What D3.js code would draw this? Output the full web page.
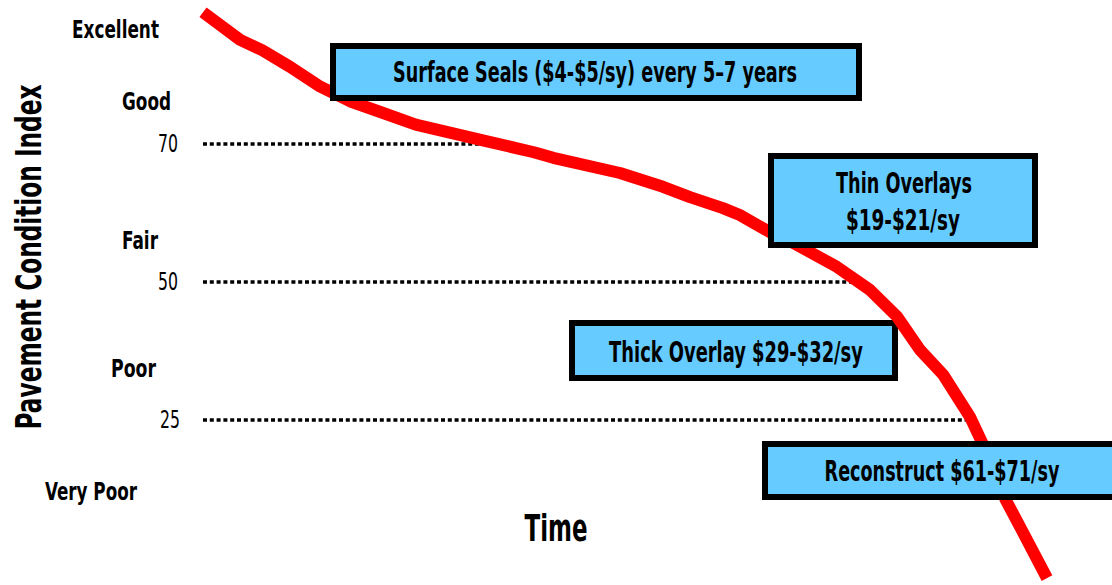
<!DOCTYPE html>
<html>
<head>
<meta charset="utf-8">
<script src="https://cdn.jsdelivr.net/npm/d3@7"></script>
<style>
  html, body { margin: 0; padding: 0; background: #fff; }
  svg { display: block; }
  text { font-family: "Liberation Sans Narrow", "DejaVu Sans Condensed", "Roboto Condensed", sans-serif; }
</style>
</head>
<body>
<svg id="chart" width="1112" height="585"></svg>
<script>
// ---------- data ----------
const timeValues = [0, 4.4, 7.0, 10.3, 13.9, 17.4, 21.1, 25.2, 32.9, 39.2, 41.5, 49.4, 54.5, 57.7, 61.6, 63.6, 67.2, 69.9, 75.1, 79.0, 82.2, 84.95, 87.7, 90.9, 93.0, 95.1, 97.3, 100];
const pciValues  = [89.1, 85.1, 83.6, 81.2, 78.3, 76.2, 74.6, 72.8, 70.6, 68.8, 68.0, 65.8, 63.8, 62.3, 60.7, 59.7, 57.2, 55.7, 52.2, 48.6, 43.8, 37.7, 33.2, 25.5, 19.6, 12.7, 7.3, 0.6];

const thresholdValues = [70, 50, 25];
const thresholdLabels = ["70", "50", "25"];

const conditionLabels = ["Excellent", "Good", "Fair", "Poor", "Very Poor"];
const conditionValues = [86.7, 76.2, 56.1, 34.4, 13.9];

const treatmentLabels = [
  ["Surface Seals ($4-$5/sy) every 5\u20137 years"],
  ["Thin Overlays", "$19-$21/sy"],
  ["Thick Overlay $29-$32/sy"],
  ["Reconstruct $61-$71/sy"]
];

const xTitle = "Time";
const yTitle = "Pavement Condition Index";

// ---------- layout ----------
const svg = d3.select("#chart");
const x = d3.scaleLinear().domain([0, 100]).range([203, 1047]);
const y = d3.scaleLinear().domain([0, 25, 50, 70, 100]).range([582, 420, 282, 144, -63]);

const condLayout = [
  {x: 72, w: 87}, {x: 122, w: 49}, {x: 122, w: 36}, {x: 111, w: 45}, {x: 45, w: 92}
];
const threshLayout = [{x: 158, w: 20}, {x: 158, w: 20}, {x: 160, w: 20}];

const boxLayout = [
  {b: [330, 43, 862, 101], lines: [{cx: 595, cy: 73, w: 404}]},
  {b: [768, 153, 1038, 248], lines: [{cx: 904, cy: 184, w: 136}, {cx: 903, cy: 220, w: 114}]},
  {b: [569, 320, 898, 381], lines: [{cx: 736, cy: 352, w: 254}]},
  {b: [762, 441, 1125, 500], lines: [{cx: 942, cy: 472, w: 235}]}
];
const BW = 6;

// ---------- helpers ----------
function crossingTime(v) {
  for (let i = 1; i < pciValues.length; i++) {
    const a = pciValues[i - 1], b = pciValues[i];
    if ((a - v) * (b - v) <= 0) {
      const f = (a - v) / (a - b);
      return timeValues[i - 1] + f * (timeValues[i] - timeValues[i - 1]);
    }
  }
  return 100;
}

// Draw text at (px,py), horizontally squeezed to width w. anchor: "start" | "middle"
function fitText(parent, str, px, py, w, opts) {
  const t = parent.append("text")
    .attr("text-anchor", opts.anchor || "start")
    .attr("dominant-baseline", "central")
    .attr("font-size", opts.size)
    .attr("font-weight", opts.weight || "normal")
    .attr("fill", "#000")
    .text(str);
  const natural = t.node().getComputedTextLength() || w;
  const sx = w / natural;
  const rot = opts.rotate ? ` rotate(${opts.rotate})` : "";
  t.attr("transform", `translate(${px},${py})${rot} scale(${sx},1)`);
  return t;
}

function drawBox(i) {
  const L = boxLayout[i];
  const [x0, y0, x1, y1] = L.b;
  const g = svg.append("g");
  g.append("rect")
    .attr("x", x0 + BW / 2).attr("y", y0 + BW / 2)
    .attr("width", Math.min(x1, 1118) - x0 - BW).attr("height", y1 - y0 - BW)
    .attr("fill", "#66CCFF").attr("stroke", "#000").attr("stroke-width", BW);
  treatmentLabels[i].forEach((t, j) => {
    const ln = L.lines[j];
    fitText(g, t, ln.cx, ln.cy, ln.w, {anchor: "middle", size: 28, weight: "bold"});
  });
}

// ---------- threshold dotted lines ----------
thresholdValues.forEach((v, i) => {
  const tEnd = crossingTime(v);
  svg.append("line")
    .attr("x1", x(0)).attr("x2", x(tEnd))
    .attr("y1", y(v)).attr("y2", y(v))
    .attr("stroke", "#000").attr("stroke-width", 3.5)
    .attr("stroke-dasharray", "4 2.8");
  fitText(svg, thresholdLabels[i], threshLayout[i].x, y(v), threshLayout[i].w, {size: 24});
});

// ---------- condition labels ----------
conditionLabels.forEach((c, i) => {
  fitText(svg, c, condLayout[i].x, y(conditionValues[i]), condLayout[i].w, {size: 25, weight: "bold"});
});

// ---------- box under the curve ----------
drawBox(2);

// ---------- curve ----------
const line = d3.line()
  .x((d, i) => x(timeValues[i]))
  .y((d, i) => y(pciValues[i]))
  .curve(d3.curveLinear);
svg.append("path")
  .attr("d", line(pciValues))
  .attr("fill", "none").attr("stroke", "#FF0000")
  .attr("stroke-width", 12).attr("stroke-linejoin", "round").attr("stroke-linecap", "butt");

// ---------- boxes over the curve ----------
drawBox(0);
drawBox(1);
drawBox(3);

// ---------- titles ----------
fitText(svg, xTitle, 556, 528, 63, {anchor: "middle", size: 37, weight: "bold"});
fitText(svg, yTitle, 28, 257, 345, {anchor: "middle", size: 35, weight: "bold", rotate: -90});
</script>
</body>
</html>
